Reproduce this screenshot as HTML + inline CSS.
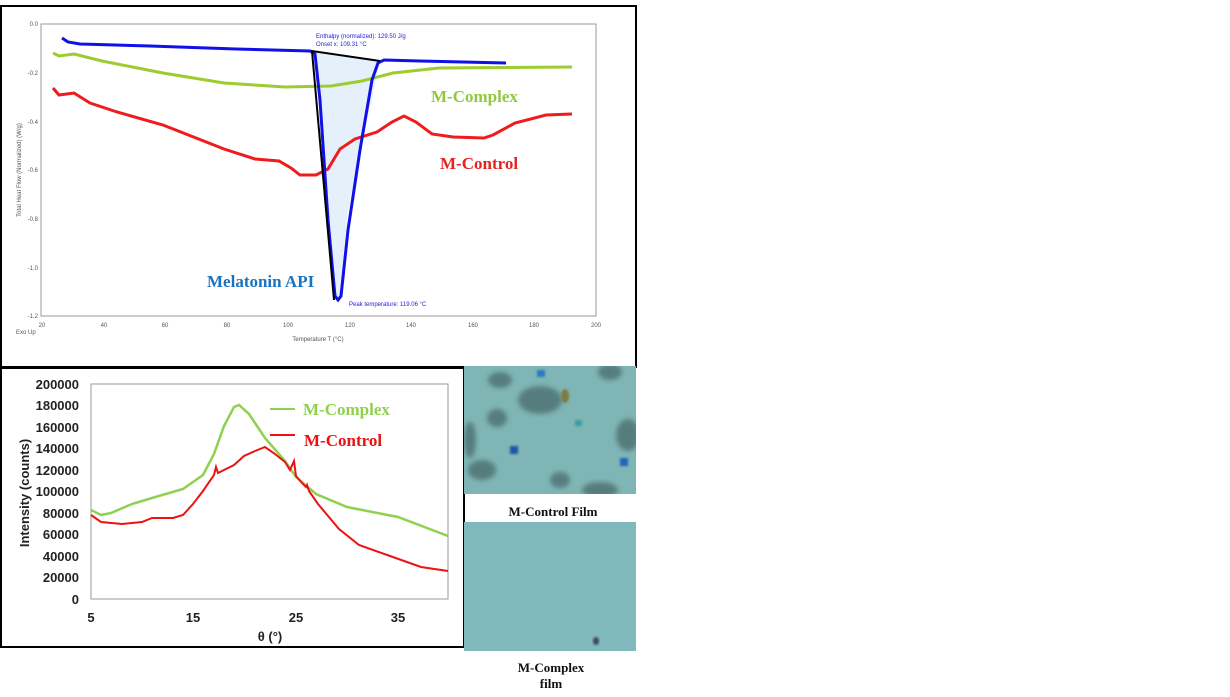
<!DOCTYPE html><html><head><meta charset="utf-8"><style>
body{margin:0;width:1230px;height:692px;background:#fff;overflow:hidden;font-family:"Liberation Sans",sans-serif}
</style></head><body>
<svg width="1230" height="692" xmlns="http://www.w3.org/2000/svg">
<defs><filter id="bl"><feGaussianBlur stdDeviation="2.5"/></filter><filter id="bl1"><feGaussianBlur stdDeviation="1"/></filter>
<clipPath id="c1"><rect x="464" y="366" width="172" height="128"/></clipPath></defs>
<!-- top frame -->
<rect x="1" y="6" width="635" height="361" fill="#fff" stroke="#000" stroke-width="2"/>
<rect x="41" y="24" width="555" height="292" fill="none" stroke="#999" stroke-width="1"/>
<g font-size="6" fill="#555" text-anchor="end">
<text x="38" y="26">0.0</text><text x="38" y="75">-0.2</text><text x="38" y="124">-0.4</text><text x="38" y="172">-0.6</text><text x="38" y="221">-0.8</text><text x="38" y="270">-1.0</text><text x="38" y="318">-1.2</text></g>
<g font-size="6" fill="#555" text-anchor="middle">
<text x="42" y="327">20</text><text x="104" y="327">40</text><text x="165" y="327">60</text><text x="227" y="327">80</text><text x="288" y="327">100</text><text x="350" y="327">120</text><text x="411" y="327">140</text><text x="473" y="327">160</text><text x="534" y="327">180</text><text x="596" y="327">200</text>
<text x="318" y="341">Temperature T (°C)</text></g>
<text x="16" y="334" font-size="6" fill="#555">Exo Up</text>
<text transform="translate(21,170) rotate(-90)" font-size="6" fill="#555" text-anchor="middle">Total Heat Flow (Normalized) (W/g)</text>
<polygon points="315,51 333,300 339,300 348,210 380,60" fill="#e6f0fb"/>
<polyline fill="none" stroke="#9ccc30" stroke-width="3" points="53,53 59,56 74,54 102,61 163,73 224,83 285,87 331,86 362,81 393,73 439,68 572,67"/>
<polyline fill="none" stroke="#ee1c1c" stroke-width="3" points="53,88 59,95 74,93 90,103 117,112 163,125 224,149 255,159 279,161 291,168 300,175 316,175 328,169 340,149 355,139 377,132 392,122 404,116 416,122 432,134 453,137 484,138 493,135 515,123 546,115 572,114"/>
<polyline fill="none" stroke="#1010e8" stroke-width="3" points="62,38 68,42 80,44 150,46 236,49 310,51 315,54 320,100 328,220 335,296 338,300 341,296 348,230 360,150 372,80 378,63 384,60 420,61 506,63"/>
<polyline fill="none" stroke="#000" stroke-width="2" points="380,61 312,51 334,300"/>
<g font-size="6" fill="#2222dd"><text x="316" y="38">Enthalpy (normalized): 129.50 J/g</text><text x="316" y="46">Onset x: 109.31 °C</text><text x="349" y="306">Peak temperature: 119.06 °C</text></g>
<g font-family="Liberation Serif,serif" font-weight="bold" font-size="17">
<text x="431" y="102" fill="#92c83e">M-Complex</text><text x="440" y="169" fill="#e8231f">M-Control</text><text x="207" y="287" fill="#1b72c0">Melatonin API</text></g>
<!-- XRD -->
<rect x="1" y="368" width="463" height="279" fill="#fff" stroke="#000" stroke-width="2"/>
<rect x="91" y="384" width="357" height="215" fill="none" stroke="#999" stroke-width="1"/>
<g font-size="13" font-weight="bold" fill="#222" text-anchor="end">
<text x="79" y="389">200000</text><text x="79" y="410">180000</text><text x="79" y="432">160000</text><text x="79" y="453">140000</text><text x="79" y="475">120000</text><text x="79" y="496">100000</text><text x="79" y="518">80000</text><text x="79" y="539">60000</text><text x="79" y="561">40000</text><text x="79" y="582">20000</text><text x="79" y="604">0</text></g>
<g font-size="13" font-weight="bold" fill="#222" text-anchor="middle">
<text x="91" y="622">5</text><text x="193" y="622">15</text><text x="296" y="622">25</text><text x="398" y="622">35</text><text x="270" y="641">θ (°)</text></g>
<text transform="translate(29,493) rotate(-90)" font-size="13" font-weight="bold" fill="#222" text-anchor="middle">Intensity (counts)</text>
<polyline fill="none" stroke="#8fd14f" stroke-width="2.5" points="91,510 101,515 111,513 132,504 152,498 183,489 203,475 214,454 224,426 234,407 239,405 249,414 265,438 285,461 296,477 316,494 347,507 398,517 448,536"/>
<polyline fill="none" stroke="#ee1111" stroke-width="2" points="91,515 101,522 122,524 142,522 152,518 173,518 183,515 193,504 203,491 214,475 216,467 218,473 224,470 234,465 244,456 255,451 265,447 275,454 285,462 290,470 294,461 296,476 302,483 306,487 307,485 309,491 318,504 339,529 359,545 390,556 421,567 448,571"/>
<line x1="270" y1="409" x2="295" y2="409" stroke="#8fd14f" stroke-width="2"/>
<line x1="270" y1="435" x2="295" y2="435" stroke="#ee1111" stroke-width="2"/>
<g font-family="Liberation Serif,serif" font-weight="bold" font-size="17"><text x="303" y="415" fill="#8fd14f">M-Complex</text><text x="304" y="446" fill="#ee1111">M-Control</text></g>
<!-- photos -->
<g clip-path="url(#c1)">
<rect x="464" y="366" width="172" height="128" fill="#7fb5b5"/>
<g filter="url(#bl)" fill="#4d6f70" opacity="0.8">
<ellipse cx="540" cy="400" rx="22" ry="14"/><ellipse cx="497" cy="418" rx="10" ry="9"/><ellipse cx="628" cy="435" rx="12" ry="16"/><ellipse cx="482" cy="470" rx="14" ry="10"/><ellipse cx="610" cy="372" rx="12" ry="8"/><ellipse cx="500" cy="380" rx="12" ry="8"/><ellipse cx="560" cy="480" rx="10" ry="8"/><ellipse cx="600" cy="490" rx="18" ry="8"/><ellipse cx="470" cy="440" rx="6" ry="18"/></g>
<g filter="url(#bl1)"><rect x="510" y="446" width="8" height="8" fill="#2255aa"/><rect x="537" y="370" width="8" height="7" fill="#2a7cc0"/><rect x="620" y="458" width="8" height="8" fill="#2266bb"/><rect x="575" y="420" width="7" height="6" fill="#3a9fa0"/><ellipse cx="565" cy="396" rx="4" ry="7" fill="#807a40"/></g>
</g>
<rect x="464" y="522" width="172" height="129" fill="#7fb9bb"/>
<ellipse cx="596" cy="641" rx="3" ry="4" fill="#446" filter="url(#bl1)"/>
<g font-family="Liberation Serif,serif" font-weight="bold" font-size="13" fill="#111" text-anchor="middle">
<text x="553" y="516">M-Control Film</text><text x="551" y="672">M-Complex</text><text x="551" y="688">film</text></g>
</svg>
</body></html>
